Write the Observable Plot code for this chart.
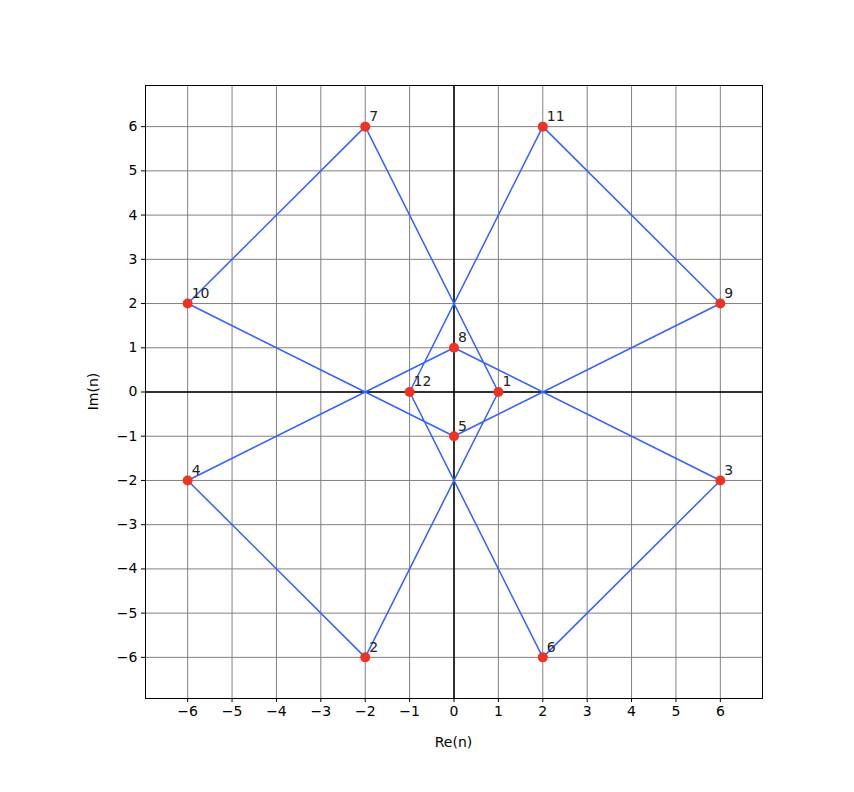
<!DOCTYPE html>
<html>
<head>
<meta charset="utf-8">
<script src="https://cdn.jsdelivr.net/npm/d3@7"></script>
<script src="https://cdn.jsdelivr.net/npm/@observablehq/plot@0.6"></script>
<style>
  body { margin: 0; background: #fff; }
  #chart { width: 854px; height: 792px; }
</style>
</head>
<body>
<div id="chart"></div>
<script>
const labels = [1, 2, 3, 4, 5, 6, 7, 8, 9, 10, 11, 12];
const reVals = [1, -2, 6, -6, 0, 2, -2, 0, 6, -6, 2, -1];
const imVals = [0, -6, -2, -2, -1, -6, 6, 1, 2, 2, 6, 0];
const pathOrder = [1, 7, 10, 5, 9, 11, 12, 6, 3, 8, 4, 2, 1];
const ticks = [-6, -5, -4, -3, -2, -1, 0, 1, 2, 3, 4, 5, 6];

const pts = labels.map((l, i) => ({label: l, re: reVals[i], im: imVals[i]}));
const path = pathOrder.map(l => pts.find(p => p.label === l));

const fmt = d => d < 0 ? "\u2212" + Math.abs(d) : String(d);

const chart = Plot.plot({
  width: 854,
  height: 792,
  marginLeft: 145,
  marginRight: 92,
  marginTop: 85,
  marginBottom: 94,
  style: {fontFamily: "DejaVu Sans", fontSize: "14px", color: "#000", background: "#fff"},
  x: {domain: [-6.95, 6.95], ticks: ticks, tickFormat: fmt, label: null},
  y: {domain: [-6.93, 6.93], ticks: ticks, tickFormat: fmt, label: null},
  marks: [
    Plot.gridX(ticks, {stroke: "#808080", strokeOpacity: 1, strokeWidth: 1}),
    Plot.gridY(ticks, {stroke: "#808080", strokeOpacity: 1, strokeWidth: 1}),
    Plot.ruleX([0], {stroke: "#000", strokeWidth: 1.5}),
    Plot.ruleY([0], {stroke: "#000", strokeWidth: 1.5}),
    Plot.frame({stroke: "#000", strokeWidth: 1}),
    Plot.axisX(ticks, {tickFormat: fmt, tickSize: 4, tickPadding: 4, fontSize: 14, label: null}),
    Plot.axisY(ticks, {tickFormat: fmt, tickSize: 4, tickPadding: 4, fontSize: 14, label: null}),
    Plot.line(path, {x: "re", y: "im", stroke: "#3360ff", strokeWidth: 1.5}),
    Plot.dot(pts, {x: "re", y: "im", r: 5, fill: "#ee3322", stroke: "none"}),
    Plot.text(pts, {x: "re", y: "im", text: d => String(d.label), dx: 4, dy: -10, textAnchor: "start", fontSize: 14, fill: "#222"})
  ]
});

const svg = d3.select(chart);
svg.append("text")
  .attr("x", (145 + 762) / 2).attr("y", 747)
  .attr("text-anchor", "middle")
  .style("font-family", "DejaVu Sans").style("font-size", "14px")
  .text("Re(n)");
svg.append("text")
  .attr("transform", `translate(98, ${(85 + 698) / 2}) rotate(-90)`)
  .attr("text-anchor", "middle")
  .style("font-family", "DejaVu Sans").style("font-size", "14px")
  .text("Im(n)");

document.getElementById("chart").appendChild(chart);
</script>
</body>
</html>
